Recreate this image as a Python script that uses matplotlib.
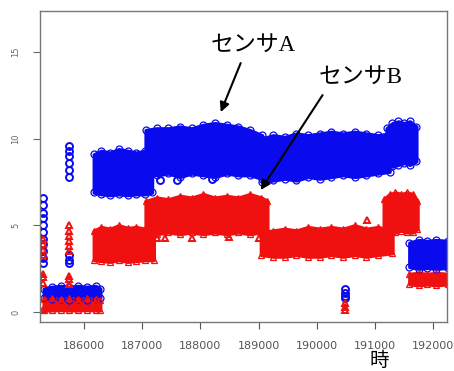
import matplotlib.pyplot as plt

# === データ: センサA (青丸) のブロック ===
a_low_t = [185310, 185450, 185600, 185750, 185900, 186050, 186200, 186280]
a_low_top = [1.35, 1.45, 1.5, 1.45, 1.5, 1.45, 1.5, 1.35]
a_low_bot = [0.8, 0.75, 0.75, 0.7, 0.75, 0.7, 0.75, 0.8]

a2_t = [186170, 186300, 186450, 186600, 186750, 186900, 187050, 187170]
a2_top = [9.1, 9.3, 9.2, 9.4, 9.3, 9.2, 9.3, 9.1]
a2_bot = [6.9, 6.8, 6.75, 6.8, 6.75, 6.8, 6.8, 6.9]

a3_t = [187060, 187250, 187450, 187650, 187850, 188050, 188250, 188450, 188650, 188850, 189060]
a3_top = [10.5, 10.6, 10.6, 10.7, 10.6, 10.8, 10.9, 10.8, 10.7, 10.5, 10.2]
a3_bot = [8.0, 7.9, 8.0, 7.8, 8.0, 7.9, 7.8, 8.0, 7.9, 7.9, 7.7]

a4_t = [189060, 189250, 189450, 189650, 189850, 190050, 190250, 190450, 190650, 190850, 191050, 191250]
a4_top = [10.0, 10.2, 10.1, 10.3, 10.2, 10.3, 10.4, 10.3, 10.4, 10.3, 10.2, 10.3]
a4_bot = [7.5, 7.6, 7.7, 7.6, 7.8, 7.7, 7.8, 7.9, 7.8, 7.9, 8.0, 8.1]

a5_t = [191200, 191300, 191400, 191500, 191600, 191710]
a5_top = [10.6, 10.9, 11.0, 10.9, 11.0, 10.7]
a5_bot = [8.5, 8.4, 8.5, 8.6, 8.5, 8.7]

a6_t = [191590, 191750, 191900, 192050, 192250]
a6_top = [4.0, 4.15, 4.1, 4.15, 4.1]
a6_bot = [2.6, 2.5, 2.55, 2.5, 2.55]

# 散発点 (センサA)
a_pts_t = [185290] * 11 + [185740] * 9 + [190480] * 4 + [187300, 187600, 188200]
a_pts_v = [6.6, 6.2, 5.7, 5.4, 5.0, 4.6, 4.2, 3.9, 3.5, 3.1, 2.8,
           9.6, 9.3, 9.0, 8.6, 8.2, 7.8, 3.3, 3.0, 2.8,
           1.3, 1.1, 0.9, 0.8,
           7.6, 7.6, 7.65]

# === データ: センサB (赤三角) のブロック ===
b_low_t = [185310, 185450, 185600, 185750, 185900, 186050, 186200, 186280]
b_low_top = [0.75, 0.8, 0.75, 0.8, 0.75, 0.8, 0.75, 0.7]
b_low_bot = [0.1, 0.1, 0.12, 0.1, 0.1, 0.12, 0.1, 0.1]

b2_t = [186170, 186300, 186450, 186600, 186750, 186900, 187050, 187200]
b2_top = [4.7, 4.9, 4.8, 5.0, 4.85, 4.9, 4.8, 4.7]
b2_bot = [3.0, 2.95, 2.9, 3.0, 2.9, 2.95, 3.0, 3.0]

b3_t = [187060, 187250, 187450, 187650, 187850, 188050, 188250, 188450, 188650, 188850, 189050, 189150]
b3_top = [6.4, 6.6, 6.5, 6.7, 6.6, 6.8, 6.6, 6.7, 6.6, 6.8, 6.6, 6.4]
b3_bot = [4.6, 4.5, 4.6, 4.5, 4.6, 4.5, 4.6, 4.5, 4.6, 4.5, 4.6, 4.7]

b4_t = [189040, 189250, 189450, 189650, 189850, 190050, 190250, 190450, 190650, 190850, 191050, 191300]
b4_top = [4.6, 4.7, 4.8, 4.7, 4.9, 4.8, 4.9, 4.8, 5.0, 4.8, 4.9, 4.7]
b4_bot = [3.3, 3.2, 3.2, 3.3, 3.2, 3.2, 3.3, 3.2, 3.3, 3.2, 3.3, 3.4]

b5_t = [191150, 191250, 191350, 191450, 191550, 191650, 191730]
b5_top = [6.5, 6.8, 6.9, 6.8, 6.9, 6.8, 6.4]
b5_bot = [4.8, 4.6, 4.6, 4.7, 4.6, 4.6, 4.8]

b6_t = [191590, 191750, 191900, 192050, 192250]
b6_top = [2.2, 2.25, 2.2, 2.25, 2.2]
b6_bot = [1.6, 1.55, 1.6, 1.55, 1.6]

# 散発点 (センサB)
b_pts_t = [185300] * 8 + [185740] * 9 + [190480] * 3 + [187250, 187400, 187850, 188500, 189000, 190870]
b_pts_v = [4.2, 3.9, 3.6, 3.3, 2.2, 2.0, 1.7, 0.1,
           5.0, 4.7, 4.4, 4.1, 3.8, 3.5, 2.1, 1.9, 1.6,
           0.5, 0.3, 0.1,
           4.3, 4.25, 4.3, 4.35, 4.3, 5.3]

x_ticks = [186000, 187000, 188000, 189000, 190000, 191000, 192000]
y_ticks = [0, 5, 10, 15]

blue_blocks = [(a_low_t, a_low_top, a_low_bot), (a2_t, a2_top, a2_bot), (a3_t, a3_top, a3_bot),
               (a4_t, a4_top, a4_bot), (a5_t, a5_top, a5_bot), (a6_t, a6_top, a6_bot)]
red_blocks = [(b_low_t, b_low_top, b_low_bot), (b2_t, b2_top, b2_bot), (b3_t, b3_top, b3_bot),
              (b4_t, b4_top, b4_bot), (b5_t, b5_top, b5_bot), (b6_t, b6_top, b6_bot)]

# === 描画 ===
fig = plt.figure(figsize=(4.54, 3.71), dpi=100)
ax = fig.add_axes([0.088, 0.132, 0.897, 0.838])

blue = '#0a0aee'
red = '#f01010'

for t, top, bot in blue_blocks:
    ax.fill_between(t, bot, top, color=blue, linewidth=2.5, edgecolor=blue)
    ax.plot(t, top, 'o', mfc='none', mec=blue, ms=5, mew=0.9)
    ax.plot(t, bot, 'o', mfc='none', mec=blue, ms=5, mew=0.9)
ax.plot(a_pts_t, a_pts_v, 'o', mfc='none', mec=blue, ms=5, mew=1.4)

for t, top, bot in red_blocks:
    ax.fill_between(t, bot, top, color=red, linewidth=2.5, edgecolor=red)
    ax.plot(t, top, '^', mfc='none', mec=red, ms=5, mew=0.9)
    ax.plot(t, bot, '^', mfc='none', mec=red, ms=5, mew=0.9)
ax.plot(b_pts_t, b_pts_v, '^', mfc='none', mec=red, ms=5, mew=1.4)

ax.set_xlim(185245, 192240)
ax.set_ylim(-0.58, 17.37)
ax.set_xticks(x_ticks)
ax.set_yticks(y_ticks)
ax.tick_params(axis='x', labelsize=8, colors='#555555', length=5, width=0.8, pad=9)
ax.tick_params(axis='y', labelsize=6, colors='#666666', length=5, width=0.8, pad=9)
for lab in ax.get_yticklabels():
    lab.set_rotation(90)
    lab.set_va('center')
for sp in ax.spines.values():
    sp.set_color('#777777')
    sp.set_linewidth(1.0)

# 注釈
fams = ['Liberation Serif', 'DejaVu Serif', 'Noto Sans CJK JP']
arrow = dict(arrowstyle='-|>', color='black', lw=1.5, mutation_scale=14, shrinkA=0, shrinkB=0)
ax.text(188178, 15.41, 'センサA', fontsize=16.5, family=fams, ha='left', va='center')
ax.text(190030, 13.56, 'センサB', fontsize=16.5, family=fams, ha='left', va='center')
ax.annotate('', xy=(188350, 11.54), xytext=(188693, 14.37), arrowprops=arrow)
ax.annotate('', xy=(189036, 7.04), xytext=(190099, 12.52), arrowprops=arrow)

fig.text(379 / 454, 0.0, '時', fontsize=14, family=['Noto Sans CJK JP'],
         ha='center', va='bottom')

plt.savefig('out.png', dpi=100)
